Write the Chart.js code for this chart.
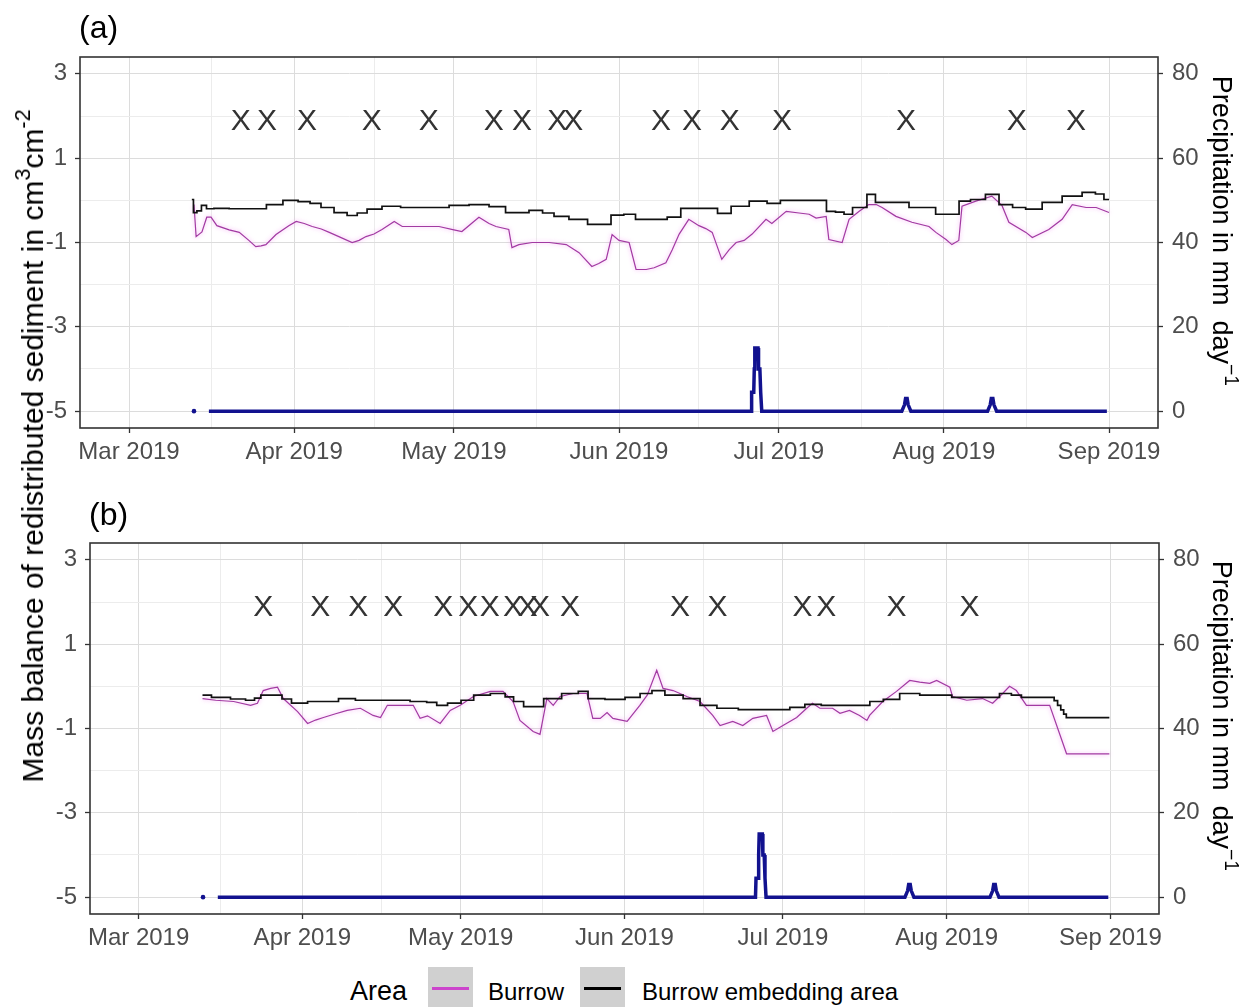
<!DOCTYPE html>
<html>
<head>
<meta charset="utf-8">
<script src="https://cdn.jsdelivr.net/npm/chart.js@4.4.1/dist/chart.umd.min.js"></script>
<style>
  html, body { margin: 0; padding: 0; background: #fff; }
  body { width: 1249px; height: 1007px; position: relative; overflow: hidden;
         font-family: "Liberation Sans", Arial, sans-serif; color: #000; }
  canvas { position: absolute; left: 0; }
  #panelA { top: 0; }
  #panelB { top: 480px; }
  .tag { position: absolute; font-size: 32px; line-height: 1; }
  .vtitle { position: absolute; font-size: 27px; line-height: 1; white-space: nowrap; }
  .vtitle.big { font-size: 30px; }
  .vtitle sup { font-size: 0.72em; vertical-align: 0.62em; line-height: 0; }
  .legend { position: absolute; top: 967px; left: 0; height: 40px; width: 1249px; }
  .legend .ttl { position: absolute; left: 350px; top: 11px; font-size: 27px; line-height: 1; }
  .legend .key { position: absolute; top: 0; width: 45px; height: 40px; background: #d0d0d0; }
  .legend .key i { position: absolute; left: 4px; right: 4px; top: 20px; height: 3px; }
  .legend .lab { position: absolute; top: 13px; font-size: 24px; line-height: 1; }
</style>
</head>
<body>
<canvas id="panelA" width="1249" height="480"></canvas>
<canvas id="panelB" width="1249" height="480"></canvas>

<div class="tag" style="left:79px; top:11px;">(a)</div>
<div class="tag" style="left:89px; top:498px;">(b)</div>

<div class="vtitle big" style="left:33px; top:446px; transform:translate(-50%,-50%) rotate(-90deg);">Mass balance of redistributed sediment in cm<sup>3</sup>cm<sup>-2</sup></div>
<div class="vtitle" style="left:1221px; top:231px; transform:translate(-50%,-50%) rotate(90deg);">Precipitation in mm&nbsp; day<sup>&minus;1</sup></div>
<div class="vtitle" style="left:1221px; top:716px; transform:translate(-50%,-50%) rotate(90deg);">Precipitation in mm&nbsp; day<sup>&minus;1</sup></div>

<div class="legend">
  <div class="ttl">Area</div>
  <div class="key" style="left:428px;"><i style="background:#cc44cc;"></i></div>
  <div class="lab" style="left:488px;">Burrow</div>
  <div class="key" style="left:580px;"><i style="background:#000;"></i></div>
  <div class="lab" style="left:642px;">Burrow embedding area</div>
</div>

<script>
// Time axis: days since 1 March 2019
const monthDays   = [0, 31, 61, 92, 122, 153, 184];
const monthLabels = ['Mar 2019', 'Apr 2019', 'May 2019', 'Jun 2019', 'Jul 2019', 'Aug 2019', 'Sep 2019'];
const midMonthDays = [15.5, 46, 76.5, 107, 137.5, 168.5];

// Left axis (sediment mass balance) and right axis (precipitation)
const sedimentTicks = [-5, -3, -1, 1, 3];
const sedimentMinor = [-4, -2, 0, 2];
const precipTicks   = [0, 20, 40, 60, 80];

// Level at which sampling events are marked
const eventLevel = 2;

// Daily precipitation in mm (shared by both panels), [day, mm]
const rain = [
  [12.2, 0], [13.0, null], [15.0, 0],
  [116.8, 0], [116.9, 4.5], [117.3, 4.5], [117.4, 10], [117.5, 15], [118.1, 15],
  [118.2, 10], [118.45, 10], [118.6, 4.5], [118.8, 0],
  [145.1, 0], [145.6, 1.5], [145.8, 3], [146.1, 3], [146.3, 1.5], [146.8, 0],
  [161.2, 0], [161.7, 1.5], [161.9, 3], [162.2, 3], [162.4, 1.5], [162.9, 0],
  [183.6, 0]
];

// Panel (a): burrow and embedding area, [day, cm3 cm-2]
const burrowA = [
  [12.2, -0.10], [12.6, -0.86], [13.7, -0.75], [14.6, -0.40], [15.4, -0.40], [16.5, -0.60],
  [18.8, -0.70], [20.7, -0.76], [22.5, -0.95], [23.8, -1.10], [24.8, -1.08], [25.7, -1.05],
  [27.6, -0.81], [30.0, -0.60], [31.4, -0.50], [32.9, -0.55], [34.4, -0.62], [36.1, -0.68],
  [37.6, -0.76], [39.4, -0.86], [41.9, -1.00], [43.2, -0.95], [44.5, -0.86], [46.0, -0.80],
  [47.5, -0.69], [49.8, -0.50], [51.3, -0.62], [54.5, -0.62], [58.2, -0.62], [61.0, -0.70],
  [62.5, -0.74], [65.7, -0.40], [67.6, -0.55], [68.9, -0.62], [71.3, -0.69], [71.9, -1.12],
  [73.2, -1.05], [75.7, -1.00], [78.9, -1.00], [82.1, -1.05], [84.5, -1.24], [86.9, -1.57],
  [88.2, -1.50], [89.6, -1.40], [90.7, -0.81], [92.0, -0.95], [93.9, -1.00], [95.2, -1.64],
  [97.1, -1.64], [98.6, -1.60], [100.8, -1.48], [102.0, -1.17], [103.3, -0.80], [105.1, -0.45],
  [107.0, -0.60], [108.3, -0.67], [109.5, -0.76], [111.3, -1.40], [112.7, -1.17], [114.0, -1.00],
  [115.5, -0.95], [117.0, -0.80], [119.6, -0.45], [120.7, -0.55], [123.4, -0.26], [125.8, -0.30],
  [127.7, -0.33], [129.0, -0.42], [130.9, -0.38], [131.4, -0.93], [133.9, -1.00], [135.2, -0.45],
  [137.1, -0.26], [138.9, -0.10], [140.3, -0.10], [141.4, -0.17], [144.0, -0.38], [147.0, -0.52],
  [150.2, -0.62], [151.5, -0.76], [153.4, -0.93], [154.5, -1.05], [155.8, -0.95], [156.4, -0.14],
  [159.0, -0.02], [162.0, 0.10], [163.9, -0.12], [165.2, -0.52], [168.4, -0.76], [169.6, -0.88],
  [172.7, -0.69], [175.2, -0.45], [177.1, -0.10], [179.7, -0.17], [181.6, -0.17], [184.0, -0.29]
];
const embeddingA = [
  [11.8, 0.02], [12.4, -0.29], [13.1, -0.25], [14.1, -0.12], [15.0, -0.20], [16.9, -0.19],
  [20.7, -0.20], [24.4, -0.20], [27.2, -0.10], [30.6, 0.00], [32.9, -0.03], [35.1, -0.07],
  [37.0, -0.17], [40.0, -0.29], [41.9, -0.36], [43.8, -0.30], [45.6, -0.21], [49.4, -0.14],
  [52.6, -0.17], [58.2, -0.17], [62.0, -0.12], [65.7, -0.10], [69.5, -0.15], [71.9, -0.29],
  [73.8, -0.29], [76.4, -0.24], [78.9, -0.30], [80.7, -0.38], [84.5, -0.45], [87.7, -0.57],
  [89.6, -0.57], [91.4, -0.35], [94.4, -0.33], [95.8, -0.45], [100.1, -0.45], [102.0, -0.40],
  [105.2, -0.19], [110.2, -0.19], [110.8, -0.31], [112.1, -0.31], [114.0, -0.14], [118.9, -0.02],
  [120.7, -0.07], [123.9, 0.00], [130.5, 0.00], [131.4, -0.26], [133.9, -0.28], [134.6, -0.33],
  [137.1, -0.17], [140.0, 0.14], [140.3, -0.05], [145.9, -0.05], [147.0, -0.17], [150.8, -0.17],
  [152.1, -0.33], [155.3, -0.33], [156.4, -0.02], [159.6, 0.02], [162.0, 0.14], [164.7, -0.10],
  [167.1, -0.17], [169.6, -0.21], [173.3, -0.05], [177.1, 0.10], [180.8, 0.19], [182.1, 0.15],
  [184.0, 0.02]
];
const eventsA = [21.0, 25.9, 33.4, 45.6, 56.3, 68.5, 73.8, 80.4, 83.4, 99.9, 105.7, 112.8, 122.6, 145.9, 166.7, 177.8];

// Panel (b)
const burrowB = [
  [12.1, -0.29], [14.6, -0.33], [18.0, -0.36], [21.2, -0.45], [22.5, -0.40], [23.6, -0.10],
  [25.0, -0.05], [26.3, -0.02], [27.4, -0.29], [30.1, -0.60], [32.0, -0.88], [33.5, -0.80],
  [35.0, -0.74], [37.3, -0.65], [39.5, -0.57], [42.0, -0.52], [44.4, -0.69], [45.8, -0.74],
  [47.1, -0.45], [49.5, -0.45], [52.0, -0.45], [53.3, -0.76], [54.7, -0.70], [57.1, -0.88],
  [59.0, -0.57], [60.9, -0.45], [63.4, -0.24], [66.6, -0.12], [69.0, -0.12], [70.9, -0.36],
  [72.2, -0.81], [74.7, -1.07], [76.0, -1.14], [77.3, -0.29], [78.5, -0.45], [79.8, -0.24],
  [82.3, -0.17], [84.9, -0.17], [86.0, -0.76], [87.4, -0.76], [88.7, -0.62], [89.8, -0.76],
  [92.5, -0.83], [94.9, -0.45], [96.3, -0.21], [98.1, 0.38], [99.3, -0.05], [101.2, -0.10],
  [103.8, -0.24], [106.3, -0.36], [108.7, -0.69], [110.1, -0.93], [112.5, -0.83], [114.4, -0.93],
  [116.3, -0.76], [118.9, -0.69], [120.1, -1.07], [122.0, -0.93], [124.6, -0.74], [126.5, -0.52],
  [127.6, -0.40], [129.0, -0.52], [131.4, -0.52], [132.8, -0.64], [134.6, -0.57], [136.5, -0.69],
  [137.9, -0.81], [138.4, -0.69], [140.9, -0.36], [143.5, -0.12], [146.0, 0.14], [147.9, 0.10],
  [149.8, 0.07], [151.1, 0.14], [153.6, -0.02], [154.1, -0.24], [156.8, -0.33], [159.8, -0.29],
  [161.7, -0.40], [163.6, -0.17], [164.9, 0.00], [166.2, -0.10], [168.1, -0.45], [172.5, -0.45],
  [175.7, -1.60], [183.8, -1.60]
];
const embeddingB = [
  [12.1, -0.21], [15.5, -0.26], [19.3, -0.30], [21.2, -0.33], [22.7, -0.28], [23.6, -0.21],
  [26.5, -0.21], [27.8, -0.30], [30.1, -0.40], [33.9, -0.36], [36.9, -0.36], [38.8, -0.29],
  [43.3, -0.33], [49.5, -0.33], [53.3, -0.36], [55.8, -0.38], [57.1, -0.45], [59.9, -0.40],
  [62.2, -0.33], [64.7, -0.21], [68.5, -0.17], [70.3, -0.25], [71.7, -0.36], [74.1, -0.48],
  [75.5, -0.48], [77.9, -0.29], [82.3, -0.17], [84.2, -0.12], [86.0, -0.29], [90.6, -0.31],
  [93.6, -0.26], [96.3, -0.17], [98.1, -0.10], [101.2, -0.21], [105.0, -0.29], [107.6, -0.45],
  [111.4, -0.52], [115.7, -0.55], [121.4, -0.55], [125.2, -0.50], [127.1, -0.43], [131.4, -0.45],
  [137.1, -0.45], [139.8, -0.36], [142.2, -0.31], [146.0, -0.17], [149.8, -0.21], [153.0, -0.21],
  [154.9, -0.26], [161.7, -0.26], [164.3, -0.17], [166.2, -0.21], [168.1, -0.26], [173.0, -0.26],
  [173.7, -0.34], [174.3, -0.45], [174.9, -0.56], [175.4, -0.66], [175.9, -0.74], [183.8, -0.74]
];
const eventsB = [23.6, 34.4, 41.6, 48.2, 57.7, 62.4, 66.5, 70.9, 73.7, 76.0, 81.7, 102.5, 109.6, 125.7, 130.2, 143.5, 157.3];

// ---------------------------------------------------------------------------
const FONT = '"Liberation Sans", Arial, sans-serif';
const GRID_MAJOR = '#dcdcdc';
const GRID_MINOR = '#ececec';
const AXIS_DARK = '#333333';

const xy = arr => arr.map(p => ({ x: p[0], y: p[1] }));
const isMonth = v => monthDays.includes(v);
const isMajorY = v => sedimentTicks.includes(v);

// Sediment range ±5% around [-5, 3]; precipitation axis shares the same frame (0 mm ↔ -5, 80 mm ↔ 3)
const Y_MIN = -5.4, Y_MAX = 3.4;
const toPrecip = v => (v + 5) * 10;

// Panel outline drawn above the data, like a framed plot panel
const panelFrame = {
  id: 'panelFrame',
  afterDatasetsDraw(chart) {
    const { ctx, chartArea: a } = chart;
    ctx.save();
    ctx.strokeStyle = AXIS_DARK;
    ctx.lineWidth = 1.6;
    ctx.strokeRect(a.left, a.top, a.right - a.left, a.bottom - a.top);
    ctx.restore();
  }
};

// Sampling events are written as "X" at their data positions
const eventGlyphs = {
  id: 'eventGlyphs',
  afterDatasetsDraw(chart) {
    const ctx = chart.ctx;
    chart.data.datasets.forEach((ds, i) => {
      if (ds.label !== 'Events') return;
      const meta = chart.getDatasetMeta(i);
      ctx.save();
      ctx.font = '30px ' + FONT;
      ctx.fillStyle = '#333333';
      ctx.textAlign = 'center';
      ctx.textBaseline = 'alphabetic';
      meta.data.forEach(pt => ctx.fillText('X', pt.x, pt.y + 13.5));
      ctx.restore();
    });
  }
};

// Soft halo around the thin burrow line
const softGlow = {
  id: 'softGlow',
  beforeDatasetDraw(chart, args) {
    const ds = chart.data.datasets[args.index];
    if (ds.glow) { chart.ctx.save(); chart.ctx.shadowColor = ds.glow; chart.ctx.shadowBlur = 4; }
  },
  afterDatasetDraw(chart, args) {
    if (chart.data.datasets[args.index].glow) chart.ctx.restore();
  }
};

function buildPanel(id, p) {
  return new Chart(document.getElementById(id), {
    type: 'line',
    data: {
      datasets: [
        { label: 'Burrow embedding area', data: xy(p.embedding), borderColor: '#111111', borderWidth: 1.7,
          stepped: 'middle', pointRadius: 0, yAxisID: 'y' },
        { label: 'Burrow', data: xy(p.burrow), borderColor: '#a23aa2', borderWidth: 1.2, glow: 'rgba(240,130,240,0.75)',
          pointRadius: 0, yAxisID: 'y' },
        { label: 'Precipitation', data: xy(rain), borderColor: '#12128f', borderWidth: 3.5, spanGaps: false,
          pointRadius: c => (c.dataIndex === 0 ? 2.3 : 0), pointBackgroundColor: '#12128f', pointBorderWidth: 0,
          yAxisID: 'y2' },
        { label: 'Events', data: p.events.map(d => ({ x: d, y: eventLevel })), showLine: false,
          pointRadius: 0, yAxisID: 'y' }
      ]
    },
    options: {
      responsive: false,
      animation: false,
      devicePixelRatio: 1,
      layout: { padding: { top: p.top, left: 0, right: 0, bottom: 0 } },
      plugins: { legend: { display: false }, tooltip: { enabled: false }, title: { display: false } },
      elements: { line: { tension: 0 } },
      scales: {
        x: {
          type: 'linear', min: -9.2, max: 193.2,
          afterBuildTicks: s => { s.ticks = monthDays.concat(midMonthDays).sort((a, b) => a - b).map(v => ({ value: v })); },
          afterFit: s => { s.height = p.xHeight; },
          ticks: {
            autoSkip: false, maxRotation: 0, minRotation: 0, padding: 5, color: '#4d4d4d',
            font: { family: FONT, size: 24 },
            callback: v => (isMonth(v) ? monthLabels[monthDays.indexOf(v)] : '')
          },
          grid: {
            color: c => (c.tick && isMonth(c.tick.value) ? GRID_MAJOR : GRID_MINOR),
            lineWidth: 1,
            tickColor: c => (c.tick && isMonth(c.tick.value) ? AXIS_DARK : 'rgba(0,0,0,0)'),
            tickLength: 5, tickWidth: 1.3
          },
          border: { display: false }
        },
        y: {
          position: 'left', min: Y_MIN, max: Y_MAX,
          afterBuildTicks: s => { s.ticks = sedimentTicks.concat(sedimentMinor).sort((a, b) => a - b).map(v => ({ value: v })); },
          afterFit: s => { s.width = p.leftW; },
          ticks: {
            autoSkip: false, padding: 8, color: '#4d4d4d', font: { family: FONT, size: 24 },
            callback: v => (isMajorY(v) ? String(v) : '')
          },
          grid: {
            color: c => (c.tick && isMajorY(c.tick.value) ? GRID_MAJOR : GRID_MINOR),
            lineWidth: 1,
            tickColor: c => (c.tick && isMajorY(c.tick.value) ? AXIS_DARK : 'rgba(0,0,0,0)'),
            tickLength: 5, tickWidth: 1.3
          },
          border: { display: false }
        },
        y2: {
          position: 'right', min: toPrecip(Y_MIN), max: toPrecip(Y_MAX),
          afterBuildTicks: s => { s.ticks = precipTicks.map(v => ({ value: v })); },
          afterFit: s => { s.width = p.rightW; },
          ticks: { autoSkip: false, padding: 9, color: '#4d4d4d', font: { family: FONT, size: 24 } },
          grid: { drawOnChartArea: false, tickColor: AXIS_DARK, tickLength: 5, tickWidth: 1.3 },
          border: { display: false }
        }
      }
    },
    plugins: [softGlow, eventGlyphs, panelFrame]
  });
}

buildPanel('panelA', { burrow: burrowA, embedding: embeddingA, events: eventsA,
                       top: 57, xHeight: 52, leftW: 80, rightW: 91 });
buildPanel('panelB', { burrow: burrowB, embedding: embeddingB, events: eventsB,
                       top: 63, xHeight: 46, leftW: 90, rightW: 90 });
</script>
</body>
</html>
